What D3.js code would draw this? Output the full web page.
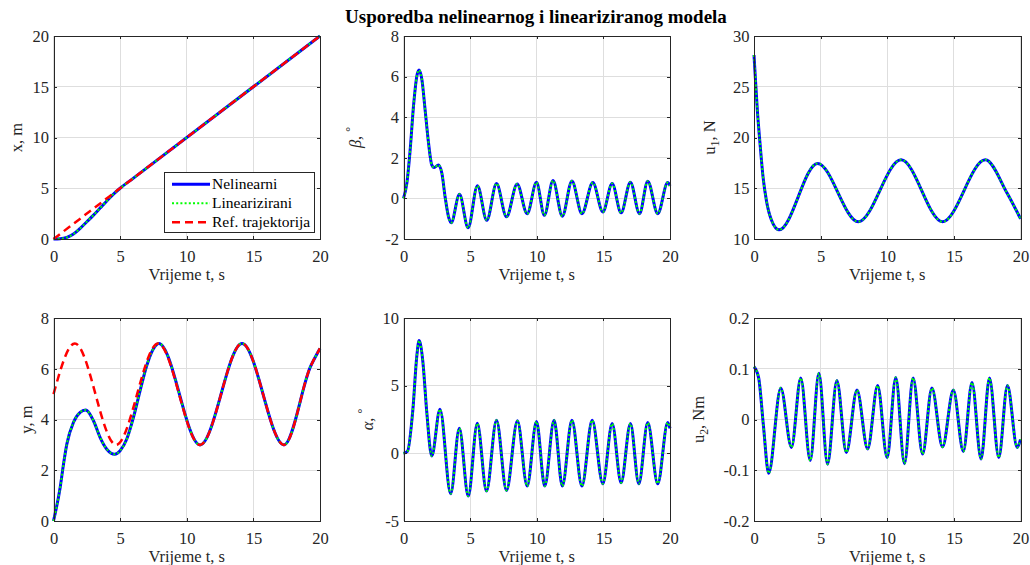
<!DOCTYPE html>
<html><head><meta charset="utf-8">
<script src="https://cdn.jsdelivr.net/npm/d3@7"></script>
<style>
body{margin:0;background:#fff}
svg{display:block}
text{font-family:'Liberation Serif','Times New Roman',serif;fill:#262626}
</style>
</head><body>
<svg id="c" width="1030" height="565"></svg>
<script>
// ---------- data ----------
const chartTitle = "Usporedba nelinearnog i lineariziranog modela";
const xAxisLabel = "Vrijeme t, s";
const timeTicks = [0, 5, 10, 15, 20];
const seriesNames = ["Nelinearni", "Linearizirani", "Ref. trajektorija"];

// x, m
const xTime = [0,0.5,1,1.5,2,2.5,3,3.5,4,4.5,5,6,20];
const xNonlin = [0,0.03,0.16,0.49,1.05,1.7,2.35,3.05,3.75,4.42,5.0,6.0,20];
const xLinear = xNonlin;
const xRefTime = [0,5,10,15,20];
const xRef = [0,5,10,15,20];
const xTicks = [0,5,10,15,20];

// y, m
const yTime = [0,0.5,0.75,1,1.5,2,2.4,3,3.5,4,4.6,5,5.5,6,6.5,7,7.5,7.9,11.0,14.15,17.3,19.3,20];
const yNonlin = [0,1.32,2.24,3.03,3.89,4.28,4.37,3.95,3.29,2.83,2.63,2.77,3.23,4.08,5.14,6.13,6.79,7.0,3.0,7.0,3.0,6.1,6.8];
const yLinear = yNonlin;
const yRefTime = [0,1.6,4.7,7.85,11.0,14.15,17.3,19.3,20];
const yRef = [5.0,7.0,3.0,7.0,3.0,7.0,3.0,6.1,6.8];
const yTicks = [0,2,4,6,8];

// beta, deg
const betaTime = [0,0.25,0.5,0.75,1.0,1.17,1.38,1.62,1.88,2.12,2.3,2.62,2.88,3.12,3.38,3.58,4.2,4.85,5.55,6.25,6.98,7.73,8.53,9.28,9.98,10.57,11.22,11.92,12.64,13.39,14.21,14.96,15.66,16.33,17.03,17.71,18.33,19.08,19.83,20];
const betaNonlin = [0,0.74,2.39,4.54,6.02,6.32,5.86,4.37,2.72,1.65,1.52,1.65,1.24,0.08,-0.91,-1.2,0.2,-1.45,0.62,-1.08,0.73,-0.91,0.71,-0.76,0.79,-0.83,0.88,-0.88,0.86,-0.75,0.78,-0.67,0.73,-0.71,0.8,-0.75,0.85,-0.75,0.78,0.62];
const betaLinear = betaNonlin;
const betaTicks = [-2,0,2,4,6,8];

// alpha, deg
const alphaTime = [0,0.3,0.7,1.0,1.17,1.45,1.75,2.12,2.74,3.54,4.19,4.86,5.54,6.23,6.98,7.73,8.55,9.28,9.98,10.6,11.3,11.92,12.64,13.39,14.16,14.96,15.66,16.33,17.03,17.66,18.33,19.08,19.83,20];
const alphaNonlin = [0,0.15,3.2,7.2,8.33,6.8,3.0,-0.2,3.26,-2.99,1.85,-3.16,2.22,-2.79,2.45,-2.74,2.4,-2.42,2.35,-2.42,2.45,-2.42,2.45,-2.42,2.45,-2.25,2.2,-2.17,2.2,-2.25,2.27,-2.25,2.27,1.85];
const alphaLinear = alphaNonlin;
const alphaTicks = [-5,0,5,10];

// u1, N
const u1Time = [0,0.1,0.25,0.43,0.68,0.93,1.3,1.88,4.77,7.83,11.04,14.15,17.36,19.0,20];
const u1Nonlin = [28.13,25.9,22.7,19.75,16.1,13.8,11.9,10.9,17.45,11.7,17.8,11.7,17.8,14.5,12.0];
const u1Linear = u1Nonlin;
const u1Ticks = [10,15,20,25,30];

// u2, Nm
const u2Time = [0,0.35,0.7,1.1,2.01,2.81,3.51,4.22,4.87,5.52,6.22,6.93,7.73,8.53,9.28,9.99,10.64,11.29,11.94,12.65,13.35,14.15,14.96,15.71,16.36,17.04,17.67,18.37,19.02,19.75,20];
const u2Nonlin = [0.104,0.082,-0.01,-0.106,0.062,-0.055,0.082,-0.081,0.091,-0.088,0.077,-0.065,0.058,-0.058,0.067,-0.075,0.083,-0.087,0.082,-0.068,0.062,-0.054,0.058,-0.063,0.073,-0.078,0.082,-0.075,0.067,-0.055,-0.039];
const u2Linear = u2Nonlin;
const u2Ticks = [-0.2,-0.1,0,0.1,0.2];

// ---------- layout / styles ----------
const colX = [53.5, 403.5, 754];
const rowY = [36, 318];
const PW = 266.5, PH = 203;
const styles = {
  nonlin: {stroke:"#0000ff", width:3, dash:null},
  linear: {stroke:"#00ff00", width:2, dash:"2,2.2"},
  ref:    {stroke:"#ff0000", width:2.5, dash:"8,5"}
};

const panels = [
  {col:0,row:0, ticks:xTicks, dom:[0,20], label:[{t:"x, m"}], lx:21.5, series:[[xTime,xNonlin,"nonlin"],[xTime,xLinear,"linear"],[xRefTime,xRef,"ref"]], legend:true},
  {col:1,row:0, ticks:betaTicks, dom:[-2,8], label:[{t:"β",it:true},{t:", "},{t:"°",sup:true}], lx:361, series:[[betaTime,betaNonlin,"nonlin"],[betaTime,betaLinear,"linear"]]},
  {col:2,row:0, ticks:u1Ticks, dom:[10,30], label:[{t:"u"},{t:"1",sub:true},{t:", N"}], lx:715, series:[[u1Time,u1Nonlin,"nonlin"],[u1Time,u1Linear,"linear"]]},
  {col:0,row:1, ticks:yTicks, dom:[0,8], label:[{t:"y, m"}], lx:31.5, series:[[yTime,yNonlin,"nonlin"],[yTime,yLinear,"linear"],[yRefTime,yRef,"ref"]]},
  {col:1,row:1, ticks:alphaTicks, dom:[-5,10], label:[{t:"α",it:true},{t:", "},{t:"°",sup:true}], lx:373, series:[[alphaTime,alphaNonlin,"nonlin"],[alphaTime,alphaLinear,"linear"]]},
  {col:2,row:1, ticks:u2Ticks, dom:[-0.2,0.2], label:[{t:"u"},{t:"2",sub:true},{t:", Nm"}], lx:703.5, series:[[u2Time,u2Nonlin,"nonlin"],[u2Time,u2Linear,"linear"]]}
];

const svg = d3.select("#c");
const FS = 16.5;
const axisColor = "#262626";

svg.append("text").attr("x", 536).attr("y", 23).attr("text-anchor","middle")
  .attr("font-size", 19).attr("font-weight","bold").style("fill","#000").text(chartTitle);

panels.forEach((p, i) => {
  const x0 = colX[p.col], y0 = rowY[p.row];
  const g = svg.append("g").attr("transform", `translate(${x0},${y0})`);
  const xs = d3.scaleLinear().domain([0,20]).range([0, PW]);
  const ys = d3.scaleLinear().domain(p.dom).range([PH, 0]);

  // grid
  const grid = g.append("g").attr("shape-rendering","crispEdges");
  timeTicks.forEach(t => grid.append("line").attr("x1", xs(t)).attr("x2", xs(t)).attr("y1",0).attr("y2",PH).attr("stroke","#dedede").attr("stroke-width",1));
  p.ticks.forEach(v => grid.append("line").attr("x1",0).attr("x2",PW).attr("y1", ys(v)).attr("y2", ys(v)).attr("stroke","#dedede").attr("stroke-width",1));

  // lines
  const cid = "clip"+i;
  g.append("clipPath").attr("id", cid).append("rect").attr("x",-2).attr("y",-2).attr("width",PW+4).attr("height",PH+4);
  const lg = g.append("g").attr("clip-path", `url(#${cid})`);
  p.series.forEach(([ts, vs, key]) => {
    const st = styles[key];
    const pts = ts.map((t,k)=>[t, vs[k]]);
    const line = d3.line().x(d=>xs(d[0])).y(d=>ys(d[1])).curve(d3.curveMonotoneX);
    lg.append("path").attr("d", line(pts)).attr("fill","none").attr("stroke", st.stroke)
      .attr("stroke-width", st.width).attr("stroke-dasharray", st.dash).attr("stroke-linejoin","round");
  });

  // axes (MATLAB style box, ticks inward on all sides)
  const bottom = g.append("g").attr("transform", `translate(0,${PH})`)
    .call(d3.axisBottom(xs).tickValues(timeTicks).tickSizeInner(-3).tickSizeOuter(0).tickPadding(8).tickFormat(d=>String(d)));
  const top = g.append("g").call(d3.axisTop(xs).tickValues(timeTicks).tickSizeInner(-3).tickSizeOuter(0).tickFormat(""));
  const left = g.append("g").call(d3.axisLeft(ys).tickValues(p.ticks).tickSizeInner(-3).tickSizeOuter(0).tickPadding(7).tickFormat(d=>String(d)));
  const right = g.append("g").attr("transform", `translate(${PW},0)`)
    .call(d3.axisRight(ys).tickValues(p.ticks).tickSizeInner(-3).tickSizeOuter(0).tickFormat(""));
  [bottom, top, left, right].forEach(a => {
    a.attr("font-family", null);
    a.selectAll("path.domain").attr("stroke", axisColor).attr("stroke-width",1).attr("shape-rendering","crispEdges");
    a.selectAll(".tick line").attr("stroke", axisColor).attr("shape-rendering","crispEdges");
    a.selectAll(".tick text").attr("font-size", FS).attr("fill", axisColor);
  });
  bottom.selectAll(".tick text").attr("dy", "0.71em").attr("y", 11);
  left.selectAll(".tick text").attr("x", -4.5);

  // x label
  g.append("text").attr("x", PW/2).attr("y", PH + 41).attr("text-anchor","middle").attr("font-size", FS).text(xAxisLabel);

  // y label (rotated)
  const cy = y0 + PH/2;
  const yl = svg.append("text").attr("transform", `translate(${p.lx},${cy}) rotate(-90)`)
    .attr("text-anchor","middle").attr("font-size", FS);
  let shift = 0;
  p.label.forEach(part => {
    const ts = yl.append("tspan").text(part.t);
    if (part.it) ts.attr("font-style","italic");
    let target = 0;
    if (part.sub) { target = 4; ts.attr("font-size", FS*0.72); }
    if (part.sup) { target = -7; ts.attr("font-size", FS*0.72); }
    if (target !== shift) { ts.attr("dy", target - shift); shift = target; }
  });

  // legend
  if (p.legend) {
    const lgX = 164 - x0, lgY = 172.7 - y0;
    const leg = g.append("g").attr("transform", `translate(${lgX},${lgY})`);
    leg.append("rect").attr("x",0).attr("y",0).attr("width",150).attr("height",59.6)
      .attr("fill","#fff").attr("stroke", axisColor).attr("stroke-width",1).attr("shape-rendering","crispEdges");
    const keys = ["nonlin","linear","ref"];
    keys.forEach((k, j) => {
      const st = styles[k];
      const yy = 11.5 + j*19;
      leg.append("line").attr("x1", 8).attr("x2", 46).attr("y1", yy).attr("y2", yy)
        .attr("stroke", st.stroke).attr("stroke-width", st.width).attr("stroke-dasharray", st.dash);
      leg.append("text").attr("x", 48).attr("y", yy).attr("dy","0.33em").attr("font-size", 15.5).style("fill","#000").text(seriesNames[j]);
    });
  }
});
</script>
</body></html>
